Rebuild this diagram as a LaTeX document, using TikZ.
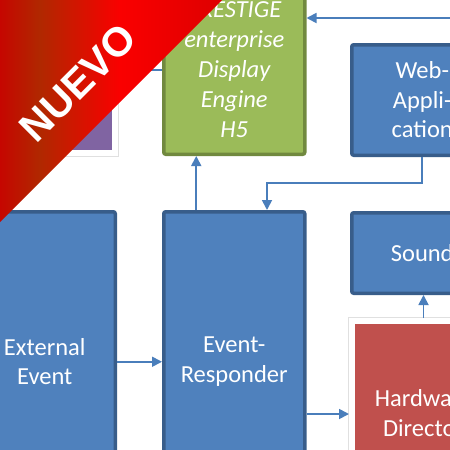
\documentclass[tikz,border=0pt]{standalone}
\usepackage{fontspec}
\setmainfont{Carlito}
\newfontfamily\ribbonfont{Liberation Sans}
\usetikzlibrary{arrows.meta}

\definecolor{boxblue}{HTML}{4F81BD}
\definecolor{boxblueline}{HTML}{385D8A}
\definecolor{boxgreen}{HTML}{9BBB59}
\definecolor{boxgreenline}{HTML}{71893F}
\definecolor{boxred}{HTML}{C0504D}
\definecolor{boxpurple}{HTML}{8064A2}
\definecolor{linkblue}{HTML}{4A7EBB}
\definecolor{ribbonedge}{RGB}{198,6,0}
\definecolor{ribbonbrown}{RGB}{176,40,0}
\definecolor{ribbonred}{RGB}{250,0,0}
\definecolor{ribbonright}{RGB}{222,0,0}

\begin{document}
\begin{tikzpicture}[x=1pt, y=-1pt,
        box/.style={rectangle, rounded corners=2pt, line width=3.5pt, text=white,
            align=center, inner sep=0pt, font=\fontsize{24.5}{29.5}\selectfont},
        bluebox/.style={box, fill=boxblue, draw=boxblueline},
        greenbox/.style={box, fill=boxgreen, draw=boxgreenline,
            font=\fontsize{24.5}{30}\selectfont\itshape},
        framebox/.style={box, rounded corners=0pt, line width=6pt, draw=white,
            preaction={draw=black!12, line width=8pt}},
        link/.style={draw=linkblue, line width=1.75pt, -{Triangle[length=10pt,width=10pt]}}]
    \def\W{141} % box width

    \useasboundingbox (0,0) rectangle (450,450);
    \clip (0,0) rectangle (450,450);

    % boxes
    \node[framebox, fill=boxpurple, minimum width=145pt, minimum height=193pt] (purple) at (42.5,56.5) {};
    \node[greenbox, minimum width=\W pt, minimum height=168.5pt] (engine) at (234.25,70)
        {PRESTIGE\\enterprise\\Display\\Engine\\H5};
    \node[bluebox, minimum width=\W pt, minimum height=110.5pt] (webapp) at (422.25,100)
        {Web-\\Appli-\\cation};
    \node[bluebox, minimum width=\W pt, minimum height=300pt] (external) at (44.75,361.75)
        {External\\Event};
    \node[bluebox, minimum width=\W pt, minimum height=300pt] (responder) at (234.25,361.75)
        {Event-\\Responder};
    \node[bluebox, minimum width=\W pt, minimum height=80.5pt] (sound) at (422.25,253) {Sound};
    \node[framebox, fill=boxred, minimum width=143pt, minimum height=184pt] (hardware) at (423.5,413)
        {Hardware\\Director};

    % connectors
    \coordinate (topfeed) at (470,18);
    \coordinate (backlink) at (0,70);
    \coordinate (bend) at (267,183);
    \coordinate (hwfeed) at (0,414);
    \draw[link] (topfeed) -- (topfeed -| engine.east);
    \draw[link] (engine.west |- backlink) -- (purple.east |- backlink);
    \draw[link] ([xshift=-38pt]responder.north) -- ([xshift=-38pt]engine.south);
    \draw[link] (webapp.south) |- (bend) -- (bend |- responder.north);
    \draw[link] (external.east) -- (responder.west);
    \draw[link] (responder.east |- hwfeed) -- (hardware.west |- hwfeed);
    \draw[link] (hardware.north) -- (hardware.north |- sound.south);

    % ribbon
    \begin{scope}
        \clip (0,0) -- (222,0) -- (0,222) -- cycle;
        \shade[left color=ribbonedge, right color=ribbonbrown] (0,0) rectangle (40,222);
        \shade[left color=ribbonbrown, right color=ribbonred] (40,0) rectangle (120,222);
        \shade[left color=ribbonred, right color=ribbonright] (120,0) rectangle (222,222);
    \end{scope}
    \node[rotate=45, text=white, font=\ribbonfont\bfseries\fontsize{41}{41}\selectfont] (nuevo) at (78,83) {NUEVO};
\end{tikzpicture}
\end{document}
